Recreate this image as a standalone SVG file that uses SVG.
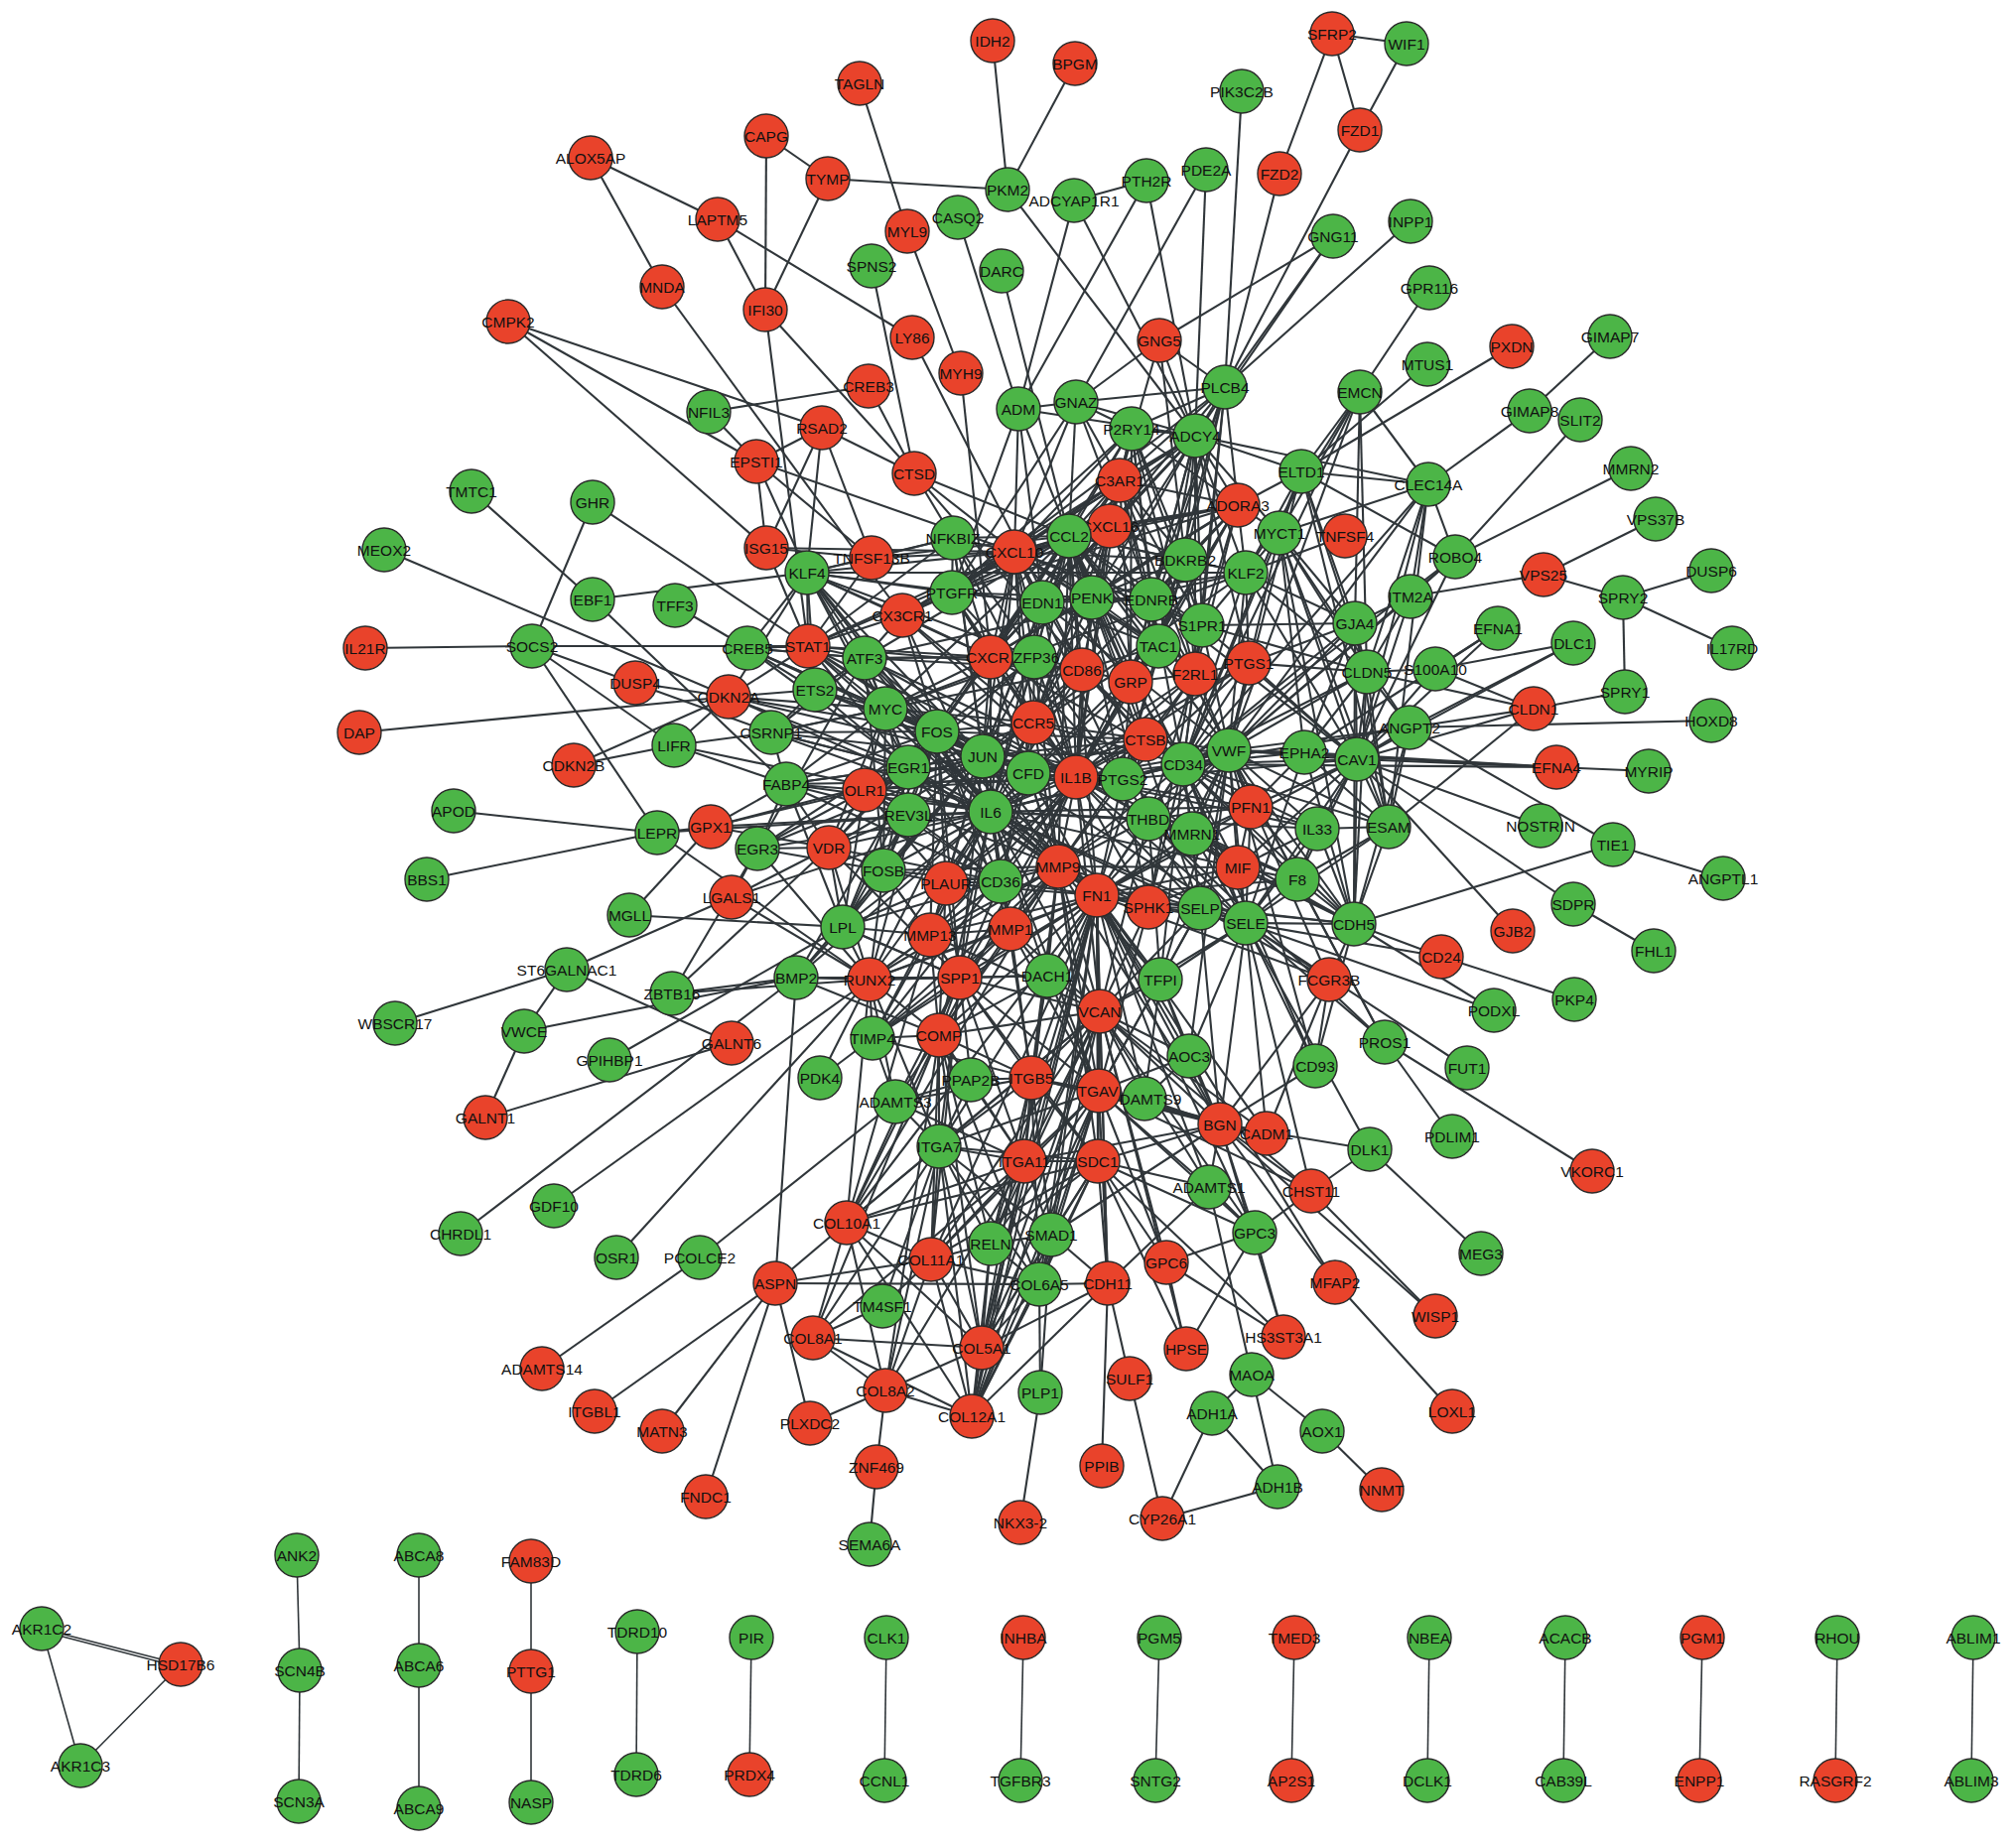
<svg xmlns="http://www.w3.org/2000/svg" width="2031" height="1860" viewBox="0 0 2031 1860">
<style>
.e path{stroke:#30363a;stroke-width:2.1;fill:none}
.e2 path{stroke:#30363a;stroke-width:1.6;fill:none}
circle{stroke:#2a2a2a;stroke-width:1.4}
.r circle{fill:#e9432b}
.g circle{fill:#4cb547}
text{font-family:"Liberation Sans",Arial,sans-serif;font-size:15.5px;text-anchor:middle;dominant-baseline:central;fill:#111}
</style>
<rect width="2031" height="1860" fill="#fff"/>
<g id="connectors" class="e">
<path d="M866 84L914 233"/><path d="M914 233L968 376"/><path d="M772 137L834 180"/><path d="M772 137L771 312"/><path d="M834 180L771 312"/><path d="M834 180L1015 191"/><path d="M595 159L723 221"/><path d="M595 159L667 289"/><path d="M723 221L771 312"/><path d="M723 221L919 340"/><path d="M667 289L909 620"/><path d="M771 312L814 651"/><path d="M771 312L921 477"/><path d="M512 324L828 431"/><path d="M512 324L762 465"/><path d="M512 324L772 552"/><path d="M714 415L875 389"/><path d="M714 415L762 465"/><path d="M875 389L921 477"/><path d="M828 431L762 465"/><path d="M828 431L772 552"/><path d="M828 431L813 577"/><path d="M828 431L878 562"/><path d="M828 431L921 477"/><path d="M762 465L1022 556"/><path d="M762 465L772 552"/><path d="M762 465L878 562"/><path d="M762 465L813 577"/><path d="M772 552L878 562"/><path d="M772 552L814 651"/><path d="M772 552L1022 556"/><path d="M475 495L597 604"/><path d="M597 506L536 651"/><path d="M597 506L814 651"/><path d="M387 554L734 702"/><path d="M597 604L813 577"/><path d="M597 604L792 790"/><path d="M680 610L753 653"/><path d="M368 653L536 651"/><path d="M536 651L814 651"/><path d="M536 651L679 751"/><path d="M536 651L662 839"/><path d="M640 688L734 702"/><path d="M362 738L734 702"/><path d="M734 702L679 751"/><path d="M734 702L578 771"/><path d="M734 702L814 651"/><path d="M734 702L892 714"/><path d="M734 702L821 695"/><path d="M734 702L990 762"/><path d="M734 702L944 737"/><path d="M734 702L915 773"/><path d="M734 702L998 818"/><path d="M578 771L679 751"/><path d="M679 751L777 738"/><path d="M679 751L792 790"/><path d="M679 751L998 818"/><path d="M457 817L662 839"/><path d="M430 886L662 839"/><path d="M662 839L716 833"/><path d="M662 839L876 987"/><path d="M662 839L998 818"/><path d="M716 833L792 790"/><path d="M716 833L634 922"/><path d="M716 833L835 854"/><path d="M716 833L990 762"/><path d="M716 833L998 818"/><path d="M716 833L871 796"/><path d="M634 922L849 934"/><path d="M737 904L571 977"/><path d="M737 904L835 854"/><path d="M737 904L876 987"/><path d="M737 904L763 855"/><path d="M737 904L998 818"/><path d="M571 977L398 1031"/><path d="M571 977L528 1039"/><path d="M571 977L737 1051"/><path d="M528 1039L489 1126"/><path d="M528 1039L802 985"/><path d="M489 1126L737 1051"/><path d="M614 1068L849 934"/><path d="M677 1001L802 985"/><path d="M677 1001L876 987"/><path d="M677 1001L763 855"/><path d="M677 1001L835 854"/><path d="M826 1086L879 1046"/><path d="M464 1243L802 985"/><path d="M558 1215L876 987"/><path d="M621 1267L876 987"/><path d="M705 1267L546 1379"/><path d="M705 1267L902 1110"/><path d="M802 985L781 1293"/><path d="M802 985L876 987"/><path d="M802 985L967 985"/><path d="M802 985L849 934"/><path d="M802 985L998 818"/><path d="M802 985L990 762"/><path d="M802 985L944 737"/><path d="M802 985L946 1043"/><path d="M781 1293L853 1232"/><path d="M781 1293L938 1269"/><path d="M781 1293L1047 1294"/><path d="M781 1293L599 1422"/><path d="M781 1293L667 1442"/><path d="M781 1293L711 1508"/><path d="M781 1293L816 1434"/><path d="M853 1232L938 1269"/><path d="M853 1232L819 1348"/><path d="M853 1232L892 1401"/><path d="M853 1232L989 1358"/><path d="M853 1232L979 1427"/><path d="M853 1232L946 1155"/><path d="M853 1232L967 985"/><path d="M853 1232L946 1043"/><path d="M853 1232L876 987"/><path d="M853 1232L937 942"/><path d="M819 1348L989 1358"/><path d="M819 1348L889 1316"/><path d="M819 1348L892 1401"/><path d="M819 1348L979 1427"/><path d="M892 1401L816 1434"/><path d="M892 1401L883 1478"/><path d="M892 1401L979 1427"/><path d="M892 1401L989 1358"/><path d="M892 1401L938 1269"/><path d="M883 1478L876 1556"/><path d="M889 1316L938 1269"/><path d="M938 1269L989 1358"/><path d="M938 1269L979 1427"/><path d="M938 1269L946 1155"/><path d="M938 1269L1047 1294"/><path d="M938 1269L946 1043"/><path d="M938 1269L967 985"/><path d="M938 1269L1032 1170"/><path d="M938 1269L998 1253"/><path d="M989 1358L979 1427"/><path d="M989 1358L1047 1294"/><path d="M989 1358L1032 1170"/><path d="M989 1358L946 1155"/><path d="M989 1358L1106 1170"/><path d="M989 1358L998 1253"/><path d="M989 1358L1059 1244"/><path d="M989 1358L1116 1293"/><path d="M989 1358L1039 1086"/><path d="M989 1358L946 1043"/><path d="M979 1427L1116 1293"/><path d="M979 1427L1047 1294"/><path d="M979 1427L1032 1170"/><path d="M979 1427L946 1155"/><path d="M979 1427L1059 1244"/><path d="M979 1427L998 1253"/><path d="M979 1427L1106 1170"/><path d="M979 1427L1107 1099"/><path d="M1380 1158L1321 1200"/><path d="M1380 1158L1492 1263"/><path d="M1395 1050L1604 1180"/><path d="M1395 1050L1463 1145"/><path d="M1395 1050L1255 930"/><path d="M1395 1050L1307 886"/><path d="M1395 1050L1157 825"/><path d="M1395 1050L1238 756"/><path d="M1321 1200L1264 1242"/><path d="M1321 1200L1446 1326"/><path d="M1321 1200L1229 1133"/><path d="M1321 1200L1108 1019"/><path d="M1106 1170L1116 1293"/><path d="M1106 1170L1264 1242"/><path d="M1106 1170L1293 1347"/><path d="M1106 1170L1195 1359"/><path d="M1106 1170L1047 1294"/><path d="M1106 1170L1175 1272"/><path d="M1106 1170L1059 1244"/><path d="M1106 1170L998 1253"/><path d="M1106 1170L1032 1170"/><path d="M1106 1170L1107 1099"/><path d="M1106 1170L1039 1086"/><path d="M1106 1170L1108 1019"/><path d="M1106 1170L1105 902"/><path d="M1106 1170L1066 873"/><path d="M1106 1170L1229 1133"/><path d="M1106 1170L1218 1196"/><path d="M1106 1170L946 1155"/><path d="M1106 1170L938 1269"/><path d="M1106 1170L853 1232"/><path d="M1264 1242L1175 1272"/><path d="M1264 1242L1195 1359"/><path d="M1264 1242L1293 1347"/><path d="M1264 1242L1218 1196"/><path d="M1264 1242L1229 1133"/><path d="M1264 1242L1108 1019"/><path d="M1175 1272L1293 1347"/><path d="M1175 1272L1195 1359"/><path d="M1175 1272L1107 1099"/><path d="M1175 1272L1108 1019"/><path d="M1116 1293L1110 1477"/><path d="M1116 1293L1138 1389"/><path d="M1116 1293L1047 1294"/><path d="M1116 1293L1218 1196"/><path d="M1116 1293L1107 1099"/><path d="M1116 1293L1105 902"/><path d="M1116 1293L1108 1019"/><path d="M1138 1389L1171 1530"/><path d="M1261 1385L1221 1424"/><path d="M1261 1385L1287 1498"/><path d="M1261 1385L1332 1442"/><path d="M1261 1385L1218 1196"/><path d="M1221 1424L1287 1498"/><path d="M1221 1424L1171 1530"/><path d="M1287 1498L1171 1530"/><path d="M1332 1442L1392 1501"/><path d="M1345 1292L1463 1422"/><path d="M1345 1292L1229 1133"/><path d="M1345 1292L1105 902"/><path d="M1048 1403L1028 1534"/><path d="M1048 1403L1059 1244"/><path d="M1048 1403L1047 1294"/>
<path d="M1421 601L1555 579"/><path d="M1555 579L1635 602"/><path d="M1555 579L1668 523"/><path d="M1635 602L1724 575"/><path d="M1635 602L1745 653"/><path d="M1635 602L1637 697"/><path d="M1509 633L1446 674"/><path d="M1446 674L1585 648"/><path d="M1446 674L1545 714"/><path d="M1446 674L1377 677"/><path d="M1585 648L1420 733"/><path d="M1545 714L1637 697"/><path d="M1420 733L1724 726"/><path d="M1545 714L1399 833"/><path d="M1545 714L1420 733"/><path d="M1545 714L1377 677"/><path d="M1545 714L1367 765"/><path d="M1568 773L1661 777"/><path d="M1568 773L1367 765"/><path d="M1568 773L1314 758"/><path d="M1568 773L1238 756"/><path d="M1568 773L1192 770"/><path d="M1552 832L1367 765"/><path d="M1625 851L1736 885"/><path d="M1625 851L1420 733"/><path d="M1625 851L1364 931"/><path d="M1585 911L1666 958"/><path d="M1585 911L1367 765"/><path d="M1524 938L1367 765"/><path d="M1452 964L1586 1007"/><path d="M1452 964L1364 931"/><path d="M1452 964L1255 930"/><path d="M1505 1018L1364 931"/><path d="M1505 1018L1255 930"/><path d="M1478 1076L1255 930"/><path d="M1417 44L1342 34"/><path d="M1417 44L1370 131"/><path d="M1342 34L1370 131"/><path d="M1342 34L1289 175"/><path d="M1289 175L1234 390"/><path d="M1370 131L1234 390"/><path d="M1421 223L1234 390"/><path d="M1343 238L1234 390"/><path d="M1343 238L1168 343"/><path d="M1343 238L1204 439"/><path d="M1251 92L1234 390"/><path d="M1440 290L1370 395"/><path d="M1438 367L1311 475"/><path d="M1523 349L1311 475"/><path d="M1622 339L1541 414"/><path d="M1541 414L1439 488"/><path d="M1592 423L1466 561"/><path d="M1643 472L1466 561"/><path d="M1439 488L1466 561"/><path d="M1439 488L1421 601"/><path d="M1439 488L1311 475"/><path d="M1439 488L1370 395"/><path d="M1439 488L1289 537"/><path d="M1439 488L1399 833"/><path d="M1439 488L1377 677"/><path d="M1439 488L1204 439"/><path d="M1466 561L1421 601"/><path d="M1000 41L1015 191"/><path d="M1083 64L1015 191"/><path d="M1015 191L1204 439"/><path d="M1082 202L1155 182"/><path d="M1082 202L1026 412"/><path d="M1082 202L1204 439"/><path d="M1155 182L1026 412"/><path d="M1155 182L1204 439"/><path d="M1215 171L1084 405"/><path d="M1215 171L1204 439"/><path d="M965 219L1026 412"/><path d="M1009 273L1077 540"/><path d="M919 340L1090 675"/><path d="M968 376L998 662"/><path d="M878 268L921 477"/><path d="M921 477L1022 556"/><path d="M921 477L1077 540"/><path d="M921 477L960 542"/><path d="M921 477L1154 745"/><path d="M1026 412L1204 439"/><path d="M1026 412L1022 556"/><path d="M1026 412L1050 607"/><path d="M1026 412L1077 540"/><path d="M1026 412L1084 405"/><path d="M1026 412L959 597"/><path d="M1084 405L1234 390"/><path d="M1084 405L1168 343"/><path d="M1084 405L1204 439"/><path d="M1084 405L1140 432"/><path d="M1084 405L1160 604"/><path d="M1084 405L1022 556"/><path d="M1084 405L1077 540"/><path d="M1084 405L959 597"/><path d="M1084 405L1128 484"/><path d="M1168 343L1204 439"/><path d="M1168 343L1234 390"/><path d="M1168 343L1128 484"/><path d="M1168 343L1194 564"/><path d="M1234 390L1204 439"/><path d="M1234 390L1160 604"/><path d="M1234 390L1194 564"/><path d="M1234 390L1140 432"/><path d="M1234 390L1128 484"/><path d="M1234 390L1247 509"/><path d="M1234 390L959 597"/><path d="M1234 390L1167 651"/><path d="M1234 390L1211 630"/><path d="M1234 390L1204 679"/><path d="M1234 390L1118 530"/><path d="M1234 390L1139 687"/><path d="M1204 439L1311 475"/><path d="M1204 439L1140 432"/><path d="M1204 439L1247 509"/><path d="M1204 439L1128 484"/><path d="M1204 439L1194 564"/><path d="M1204 439L1211 630"/><path d="M1204 439L1160 604"/><path d="M1204 439L1118 530"/><path d="M1204 439L1077 540"/><path d="M1204 439L1022 556"/><path d="M1204 439L1167 651"/><path d="M1204 439L959 597"/><path d="M1204 439L1204 679"/><path d="M1204 439L1139 687"/><path d="M1204 439L1258 668"/><path d="M1204 439L1050 607"/><path d="M1204 439L1100 602"/><path d="M1204 439L998 662"/><path d="M1204 439L1041 728"/><path d="M1204 439L1289 537"/><path d="M1204 439L1255 577"/><path d="M1370 395L1311 475"/><path d="M1370 395L1289 537"/><path d="M1370 395L1365 628"/><path d="M1370 395L1238 756"/><path d="M1370 395L1192 770"/><path d="M1370 395L1377 677"/><path d="M1370 395L1255 577"/><path d="M1311 475L1289 537"/><path d="M1311 475L1365 628"/><path d="M1311 475L1377 677"/><path d="M1311 475L1238 756"/><path d="M1311 475L1192 770"/><path d="M1311 475L1247 509"/><path d="M1311 475L1399 833"/><path d="M1311 475L1255 577"/><path d="M1311 475L1466 561"/><path d="M1355 540L1255 577"/><path d="M1289 537L1255 577"/><path d="M1289 537L1365 628"/><path d="M1289 537L1377 677"/><path d="M1289 537L1238 756"/><path d="M1289 537L1192 770"/><path d="M1289 537L1247 509"/><path d="M1289 537L1399 833"/><path d="M1289 537L1367 765"/><path d="M1289 537L1314 758"/><path d="M1289 537L1364 931"/><path d="M1289 537L1420 733"/>
<path d="M998 818L990 762"/><path d="M998 818L944 737"/><path d="M998 818L892 714"/><path d="M998 818L915 773"/><path d="M998 818L871 663"/><path d="M998 818L1077 540"/><path d="M998 818L1022 556"/><path d="M998 818L1084 783"/><path d="M998 818L1131 785"/><path d="M998 818L1041 728"/><path d="M998 818L998 662"/><path d="M998 818L1090 675"/><path d="M998 818L1066 873"/><path d="M998 818L1018 936"/><path d="M998 818L937 942"/><path d="M998 818L967 985"/><path d="M998 818L1105 902"/><path d="M998 818L1238 756"/><path d="M998 818L1192 770"/><path d="M998 818L1255 930"/><path d="M998 818L1209 915"/><path d="M998 818L1167 651"/><path d="M998 818L1050 607"/><path d="M998 818L1036 779"/><path d="M998 818L1157 825"/><path d="M998 818L1247 874"/><path d="M998 818L1157 914"/><path d="M998 818L814 651"/><path d="M998 818L813 577"/><path d="M998 818L835 854"/><path d="M998 818L876 987"/><path d="M998 818L849 934"/><path d="M998 818L1008 888"/><path d="M998 818L953 890"/><path d="M998 818L871 796"/><path d="M998 818L1042 662"/><path d="M998 818L890 877"/><path d="M998 818L763 855"/><path d="M998 818L1258 668"/><path d="M998 818L1204 679"/><path d="M998 818L1139 687"/><path d="M998 818L960 542"/><path d="M998 818L536 651"/><path d="M998 818L1327 835"/><path d="M998 818L1154 745"/><path d="M998 818L946 1043"/><path d="M998 818L879 1046"/><path d="M998 818L1108 1019"/><path d="M998 818L792 790"/><path d="M998 818L915 821"/><path d="M998 818L1055 983"/><path d="M998 818L909 620"/><path d="M998 818L1260 813"/><path d="M998 818L1107 1099"/><path d="M998 818L1039 1086"/>
<path d="M990 762L944 737"/><path d="M990 762L892 714"/><path d="M990 762L915 773"/><path d="M990 762L871 663"/><path d="M990 762L814 651"/><path d="M990 762L821 695"/><path d="M990 762L753 653"/><path d="M990 762L813 577"/><path d="M990 762L1255 577"/><path d="M990 762L1077 540"/><path d="M990 762L1022 556"/><path d="M990 762L1084 783"/><path d="M990 762L1131 785"/><path d="M990 762L1066 873"/><path d="M990 762L1018 936"/><path d="M990 762L937 942"/><path d="M990 762L1105 902"/><path d="M990 762L1042 662"/><path d="M990 762L890 877"/><path d="M990 762L763 855"/><path d="M990 762L876 987"/><path d="M990 762L967 985"/><path d="M990 762L835 854"/><path d="M990 762L1050 607"/><path d="M990 762L953 890"/><path d="M990 762L777 738"/><path d="M990 762L960 542"/><path d="M990 762L1090 675"/><path d="M990 762L998 662"/><path d="M990 762L1041 728"/><path d="M990 762L1167 651"/><path d="M990 762L1238 756"/><path d="M990 762L1255 930"/><path d="M990 762L1154 745"/><path d="M990 762L1036 779"/><path d="M990 762L915 821"/><path d="M990 762L871 796"/><path d="M990 762L849 934"/><path d="M990 762L792 790"/><path d="M990 762L1008 888"/>
<path d="M944 737L892 714"/><path d="M944 737L915 773"/><path d="M944 737L871 663"/><path d="M944 737L814 651"/><path d="M944 737L821 695"/><path d="M944 737L753 653"/><path d="M944 737L813 577"/><path d="M944 737L890 877"/><path d="M944 737L763 855"/><path d="M944 737L1042 662"/><path d="M944 737L1066 873"/><path d="M944 737L1018 936"/><path d="M944 737L1105 902"/><path d="M944 737L1084 783"/><path d="M944 737L1131 785"/><path d="M944 737L1077 540"/><path d="M944 737L777 738"/><path d="M944 737L876 987"/><path d="M944 737L967 985"/><path d="M944 737L849 934"/><path d="M944 737L835 854"/><path d="M944 737L1154 745"/><path d="M944 737L915 821"/><path d="M944 737L998 662"/><path d="M944 737L1041 728"/><path d="M944 737L871 796"/><path d="M944 737L792 790"/><path d="M944 737L1008 888"/><path d="M944 737L937 942"/><path d="M944 737L953 890"/><path d="M944 737L909 620"/>
<path d="M892 714L915 773"/><path d="M892 714L871 663"/><path d="M892 714L814 651"/><path d="M892 714L821 695"/><path d="M892 714L813 577"/><path d="M892 714L890 877"/><path d="M892 714L1042 662"/><path d="M892 714L777 738"/><path d="M892 714L792 790"/><path d="M892 714L1066 873"/><path d="M892 714L1105 902"/><path d="M892 714L1084 783"/><path d="M892 714L1077 540"/><path d="M892 714L835 854"/><path d="M892 714L1090 675"/><path d="M892 714L998 662"/><path d="M892 714L915 821"/><path d="M892 714L871 796"/><path d="M892 714L1041 728"/><path d="M892 714L1255 577"/><path d="M892 714L1036 779"/>
<path d="M915 773L871 663"/><path d="M915 773L890 877"/><path d="M915 773L763 855"/><path d="M915 773L1042 662"/><path d="M915 773L813 577"/><path d="M915 773L814 651"/><path d="M915 773L753 653"/><path d="M915 773L777 738"/><path d="M915 773L792 790"/><path d="M915 773L871 796"/><path d="M915 773L915 821"/><path d="M915 773L1131 785"/><path d="M915 773L1084 783"/><path d="M915 773L849 934"/><path d="M915 773L835 854"/><path d="M915 773L1066 873"/><path d="M915 773L1077 540"/><path d="M915 773L998 662"/><path d="M915 773L821 695"/><path d="M915 773L1105 902"/><path d="M915 773L1008 888"/>
<path d="M871 663L821 695"/><path d="M871 663L813 577"/><path d="M871 663L1042 662"/><path d="M871 663L998 662"/><path d="M871 663L909 620"/><path d="M871 663L1255 577"/><path d="M871 663L777 738"/><path d="M871 663L890 877"/><path d="M871 663L763 855"/><path d="M871 663L814 651"/><path d="M871 663L753 653"/><path d="M871 663L1077 540"/><path d="M871 663L1084 783"/><path d="M871 663L1131 785"/><path d="M871 663L1090 675"/>
<path d="M814 651L821 695"/><path d="M814 651L1022 556"/><path d="M814 651L1077 540"/><path d="M814 651L998 662"/><path d="M814 651L1090 675"/><path d="M814 651L909 620"/><path d="M814 651L813 577"/><path d="M814 651L753 653"/><path d="M814 651L878 562"/><path d="M814 651L960 542"/><path d="M814 651L1084 783"/>
<path d="M813 577L1255 577"/><path d="M813 577L878 562"/><path d="M813 577L909 620"/><path d="M813 577L959 597"/><path d="M813 577L1042 662"/><path d="M813 577L821 695"/><path d="M813 577L1050 607"/><path d="M813 577L998 662"/><path d="M813 577L960 542"/><path d="M813 577L734 702"/>
<path d="M1084 783L1077 540"/><path d="M1084 783L1022 556"/><path d="M1084 783L1131 785"/><path d="M1084 783L1041 728"/><path d="M1084 783L998 662"/><path d="M1084 783L1090 675"/><path d="M1084 783L1066 873"/><path d="M1084 783L1018 936"/><path d="M1084 783L937 942"/><path d="M1084 783L1105 902"/><path d="M1084 783L967 985"/><path d="M1084 783L1238 756"/><path d="M1084 783L1192 770"/><path d="M1084 783L1255 930"/><path d="M1084 783L1209 915"/><path d="M1084 783L1157 825"/><path d="M1084 783L1154 745"/><path d="M1084 783L1247 874"/><path d="M1084 783L1157 914"/><path d="M1084 783L1258 668"/><path d="M1084 783L1139 687"/><path d="M1084 783L1167 651"/><path d="M1084 783L1050 607"/><path d="M1084 783L1100 602"/><path d="M1084 783L1204 679"/><path d="M1084 783L1036 779"/><path d="M1084 783L909 620"/><path d="M1084 783L871 796"/><path d="M1084 783L953 890"/><path d="M1084 783L1008 888"/><path d="M1084 783L960 542"/><path d="M1084 783L1327 835"/><path d="M1084 783L1307 886"/><path d="M1084 783L1042 662"/><path d="M1084 783L1118 530"/><path d="M1084 783L1128 484"/><path d="M1084 783L1194 564"/><path d="M1084 783L1260 813"/><path d="M1084 783L1108 1019"/><path d="M1084 783L879 1046"/><path d="M1084 783L946 1043"/><path d="M1084 783L959 597"/><path d="M1084 783L1247 509"/>
<path d="M1077 540L1022 556"/><path d="M1077 540L1041 728"/><path d="M1077 540L998 662"/><path d="M1077 540L1090 675"/><path d="M1077 540L909 620"/><path d="M1077 540L1128 484"/><path d="M1077 540L1118 530"/><path d="M1077 540L1050 607"/><path d="M1077 540L1131 785"/><path d="M1077 540L1066 873"/><path d="M1077 540L1105 902"/><path d="M1077 540L1238 756"/><path d="M1077 540L1255 930"/><path d="M1077 540L1209 915"/><path d="M1077 540L960 542"/><path d="M1077 540L878 562"/><path d="M1077 540L1247 509"/><path d="M1077 540L1194 564"/><path d="M1077 540L1140 432"/><path d="M1077 540L959 597"/><path d="M1077 540L1167 651"/><path d="M1077 540L1160 604"/><path d="M1077 540L1100 602"/><path d="M1077 540L1211 630"/><path d="M1077 540L1192 770"/><path d="M1077 540L1042 662"/><path d="M1077 540L1255 577"/><path d="M1077 540L1154 745"/><path d="M1077 540L1139 687"/><path d="M1077 540L1204 679"/><path d="M1077 540L1157 825"/>
<path d="M1022 556L1041 728"/><path d="M1022 556L998 662"/><path d="M1022 556L1090 675"/><path d="M1022 556L909 620"/><path d="M1022 556L1128 484"/><path d="M1022 556L1118 530"/><path d="M1022 556L960 542"/><path d="M1022 556L878 562"/><path d="M1022 556L959 597"/><path d="M1022 556L1140 432"/><path d="M1022 556L1247 509"/><path d="M1022 556L1160 604"/><path d="M1022 556L1211 630"/><path d="M1022 556L1050 607"/><path d="M1022 556L1194 564"/><path d="M1022 556L1100 602"/><path d="M1022 556L1167 651"/><path d="M1022 556L1042 662"/><path d="M1022 556L1139 687"/><path d="M1022 556L1204 679"/><path d="M1022 556L813 577"/><path d="M1022 556L1036 779"/><path d="M1022 556L1131 785"/>
<path d="M1105 902L1066 873"/><path d="M1105 902L1018 936"/><path d="M1105 902L937 942"/><path d="M1105 902L967 985"/><path d="M1105 902L946 1043"/><path d="M1105 902L1108 1019"/><path d="M1105 902L1039 1086"/><path d="M1105 902L1107 1099"/><path d="M1105 902L1032 1170"/><path d="M1105 902L946 1155"/><path d="M1105 902L853 1232"/><path d="M1105 902L938 1269"/><path d="M1105 902L989 1358"/><path d="M1105 902L979 1427"/><path d="M1105 902L1229 1133"/><path d="M1105 902L879 1046"/><path d="M1105 902L953 890"/><path d="M1105 902L1008 888"/><path d="M1105 902L1238 756"/><path d="M1105 902L1192 770"/><path d="M1105 902L1157 825"/><path d="M1105 902L1255 930"/><path d="M1105 902L1209 915"/><path d="M1105 902L876 987"/><path d="M1105 902L1154 745"/><path d="M1105 902L1131 785"/><path d="M1105 902L1169 987"/><path d="M1105 902L1198 1064"/><path d="M1105 902L1055 983"/><path d="M1105 902L1153 1107"/><path d="M1105 902L1218 1196"/><path d="M1105 902L1276 1142"/><path d="M1105 902L1260 813"/><path d="M1105 902L1247 874"/><path d="M1105 902L1307 886"/><path d="M1105 902L1364 931"/><path d="M1105 902L1367 765"/><path d="M1105 902L1264 1242"/><path d="M1105 902L1047 1294"/><path d="M1105 902L1157 914"/><path d="M1105 902L1036 779"/><path d="M1105 902L1201 840"/><path d="M1105 902L1339 987"/><path d="M1105 902L998 1253"/><path d="M1105 902L1059 1244"/>
<path d="M1066 873L1018 936"/><path d="M1066 873L937 942"/><path d="M1066 873L967 985"/><path d="M1066 873L946 1043"/><path d="M1066 873L1008 888"/><path d="M1066 873L953 890"/><path d="M1066 873L879 1046"/><path d="M1066 873L1154 745"/><path d="M1066 873L1108 1019"/><path d="M1066 873L1192 770"/><path d="M1066 873L1238 756"/><path d="M1066 873L876 987"/><path d="M1066 873L1039 1086"/><path d="M1066 873L1107 1099"/><path d="M1066 873L853 1232"/><path d="M1066 873L1036 779"/><path d="M1066 873L1131 785"/><path d="M1066 873L1055 983"/><path d="M1066 873L1247 874"/><path d="M1066 873L1157 914"/><path d="M1066 873L1157 825"/><path d="M1066 873L1255 930"/><path d="M1066 873L1169 987"/><path d="M1066 873L1229 1133"/><path d="M1066 873L1032 1170"/><path d="M1066 873L871 796"/><path d="M1066 873L890 877"/><path d="M1066 873L1041 728"/><path d="M1066 873L998 662"/><path d="M1066 873L1042 662"/>
<path d="M1238 756L1192 770"/><path d="M1238 756L1255 930"/><path d="M1238 756L1209 915"/><path d="M1238 756L1364 931"/><path d="M1238 756L1367 765"/><path d="M1238 756L1314 758"/><path d="M1238 756L1399 833"/><path d="M1238 756L1201 840"/><path d="M1238 756L1157 825"/><path d="M1238 756L1307 886"/><path d="M1238 756L1377 677"/><path d="M1238 756L1365 628"/><path d="M1238 756L1211 630"/><path d="M1238 756L1255 577"/><path d="M1238 756L1420 733"/><path d="M1238 756L1327 835"/><path d="M1238 756L1260 813"/><path d="M1238 756L1247 874"/><path d="M1238 756L1258 668"/><path d="M1238 756L1050 607"/><path d="M1238 756L1160 604"/><path d="M1238 756L1325 1074"/><path d="M1238 756L1339 987"/><path d="M1238 756L1169 987"/><path d="M1238 756L1198 1064"/><path d="M1238 756L1466 561"/><path d="M1238 756L1439 488"/><path d="M1238 756L1204 679"/><path d="M1238 756L1154 745"/><path d="M1238 756L1131 785"/><path d="M1238 756L1157 914"/><path d="M1238 756L1421 601"/>
<path d="M1192 770L1255 930"/><path d="M1192 770L1209 915"/><path d="M1192 770L1364 931"/><path d="M1192 770L1367 765"/><path d="M1192 770L1399 833"/><path d="M1192 770L1201 840"/><path d="M1192 770L1157 825"/><path d="M1192 770L1439 488"/><path d="M1192 770L1466 561"/><path d="M1192 770L1255 577"/><path d="M1192 770L1211 630"/><path d="M1192 770L1365 628"/><path d="M1192 770L1377 677"/><path d="M1192 770L1420 733"/><path d="M1192 770L1314 758"/><path d="M1192 770L1258 668"/><path d="M1192 770L1160 604"/><path d="M1192 770L1327 835"/><path d="M1192 770L1307 886"/><path d="M1192 770L1325 1074"/><path d="M1192 770L1247 874"/><path d="M1192 770L1260 813"/><path d="M1192 770L1154 745"/><path d="M1192 770L1131 785"/><path d="M1192 770L1157 914"/><path d="M1192 770L1169 987"/><path d="M1192 770L1204 679"/><path d="M1192 770L1139 687"/><path d="M1192 770L1090 675"/><path d="M1192 770L1041 728"/><path d="M1192 770L998 662"/>
<path d="M1255 930L1209 915"/><path d="M1255 930L1364 931"/><path d="M1255 930L1367 765"/><path d="M1255 930L1399 833"/><path d="M1255 930L1339 987"/><path d="M1255 930L1157 825"/><path d="M1255 930L1307 886"/><path d="M1255 930L1325 1074"/><path d="M1255 930L1169 987"/><path d="M1255 930L1198 1064"/><path d="M1255 930L1327 835"/><path d="M1255 930L1247 874"/><path d="M1255 930L1157 914"/><path d="M1255 930L1260 813"/><path d="M1255 930L1201 840"/><path d="M1255 930L1314 758"/><path d="M1255 930L1229 1133"/><path d="M1255 930L1276 1142"/><path d="M1255 930L1321 1200"/><path d="M1255 930L1380 1158"/>
<path d="M1364 931L1367 765"/><path d="M1364 931L1399 833"/><path d="M1364 931L1314 758"/><path d="M1364 931L1377 677"/><path d="M1364 931L1420 733"/><path d="M1364 931L1307 886"/><path d="M1364 931L1339 987"/><path d="M1364 931L1325 1074"/><path d="M1364 931L1209 915"/><path d="M1364 931L1365 628"/><path d="M1364 931L1201 840"/><path d="M1364 931L1327 835"/><path d="M1364 931L1260 813"/><path d="M1364 931L1247 874"/><path d="M1364 931L1157 825"/>
<path d="M1367 765L1314 758"/><path d="M1367 765L1399 833"/><path d="M1367 765L1377 677"/><path d="M1367 765L1420 733"/><path d="M1367 765L1446 674"/><path d="M1367 765L1509 633"/><path d="M1367 765L1585 648"/><path d="M1367 765L1365 628"/><path d="M1367 765L1421 601"/><path d="M1367 765L1466 561"/><path d="M1367 765L1439 488"/><path d="M1367 765L1327 835"/><path d="M1367 765L1307 886"/><path d="M1367 765L1260 813"/><path d="M1367 765L1247 874"/><path d="M1367 765L1255 577"/><path d="M1367 765L1211 630"/><path d="M1367 765L1258 668"/><path d="M1367 765L1131 785"/><path d="M1367 765L1160 604"/>
<path d="M967 985L946 1043"/><path d="M967 985L876 987"/><path d="M967 985L937 942"/><path d="M967 985L1018 936"/><path d="M967 985L1039 1086"/><path d="M967 985L1107 1099"/><path d="M967 985L1108 1019"/><path d="M967 985L1106 1170"/><path d="M967 985L1008 888"/><path d="M967 985L953 890"/><path d="M967 985L879 1046"/><path d="M967 985L1055 983"/><path d="M967 985L835 854"/><path d="M967 985L849 934"/><path d="M967 985L890 877"/><path d="M967 985L946 1155"/><path d="M967 985L1032 1170"/><path d="M967 985L978 1088"/><path d="M967 985L902 1110"/>
<path d="M946 1043L946 1155"/><path d="M946 1043L1039 1086"/><path d="M946 1043L1108 1019"/><path d="M946 1043L879 1046"/><path d="M946 1043L998 1253"/><path d="M946 1043L902 1110"/><path d="M946 1043L978 1088"/><path d="M946 1043L1032 1170"/><path d="M946 1043L1047 1294"/><path d="M946 1043L819 1348"/><path d="M946 1043L892 1401"/><path d="M946 1043L937 942"/><path d="M946 1043L1018 936"/><path d="M946 1043L876 987"/><path d="M946 1043L1055 983"/>
<path d="M876 987L937 942"/><path d="M876 987L879 1046"/><path d="M876 987L849 934"/><path d="M876 987L835 854"/><path d="M876 987L1055 983"/><path d="M876 987L890 877"/><path d="M876 987L763 855"/><path d="M876 987L946 1155"/><path d="M876 987L902 1110"/><path d="M876 987L1018 936"/><path d="M876 987L1008 888"/><path d="M876 987L826 1086"/>
<path d="M1039 1086L1107 1099"/><path d="M1039 1086L1032 1170"/><path d="M1039 1086L946 1155"/><path d="M1039 1086L1108 1019"/><path d="M1039 1086L1047 1294"/><path d="M1039 1086L978 1088"/><path d="M1039 1086L1229 1133"/><path d="M1039 1086L1276 1142"/><path d="M1039 1086L998 1253"/><path d="M1039 1086L1059 1244"/><path d="M1039 1086L1055 983"/><path d="M1039 1086L1018 936"/><path d="M1039 1086L879 1046"/><path d="M1039 1086L902 1110"/>
<path d="M1107 1099L1032 1170"/><path d="M1107 1099L946 1155"/><path d="M1107 1099L1108 1019"/><path d="M1107 1099L1229 1133"/><path d="M1107 1099L1059 1244"/><path d="M1107 1099L998 1253"/><path d="M1107 1099L1047 1294"/><path d="M1107 1099L1153 1107"/><path d="M1107 1099L1218 1196"/><path d="M1107 1099L1169 987"/><path d="M1107 1099L1198 1064"/><path d="M1107 1099L1276 1142"/><path d="M1107 1099L1321 1200"/><path d="M1107 1099L1264 1242"/><path d="M1107 1099L989 1358"/><path d="M1107 1099L938 1269"/><path d="M1107 1099L1157 914"/><path d="M1107 1099L1209 915"/><path d="M1107 1099L1018 936"/><path d="M1107 1099L1055 983"/>
<path d="M1108 1019L1229 1133"/><path d="M1108 1019L1032 1170"/><path d="M1108 1019L989 1358"/><path d="M1108 1019L979 1427"/><path d="M1108 1019L1276 1142"/><path d="M1108 1019L1198 1064"/><path d="M1108 1019L1169 987"/><path d="M1108 1019L1153 1107"/><path d="M1108 1019L1218 1196"/><path d="M1108 1019L1055 983"/><path d="M1108 1019L1195 1359"/><path d="M1108 1019L938 1269"/><path d="M1108 1019L853 1232"/><path d="M1108 1019L946 1155"/><path d="M1108 1019L1059 1244"/><path d="M1108 1019L998 1253"/><path d="M1108 1019L1018 936"/><path d="M1108 1019L937 942"/><path d="M1108 1019L1157 914"/><path d="M1108 1019L1209 915"/><path d="M1108 1019L1255 930"/><path d="M1108 1019L1157 825"/>
<path d="M1229 1133L1276 1142"/><path d="M1229 1133L1380 1158"/><path d="M1229 1133L1218 1196"/><path d="M1229 1133L1293 1347"/><path d="M1229 1133L1446 1326"/><path d="M1229 1133L1339 987"/><path d="M1229 1133L1209 915"/><path d="M1229 1133L1169 987"/><path d="M1229 1133L1198 1064"/><path d="M1229 1133L1153 1107"/><path d="M1229 1133L1325 1074"/><path d="M1229 1133L1059 1244"/><path d="M1229 1133L1032 1170"/>
<path d="M1032 1170L946 1155"/><path d="M1032 1170L998 1253"/><path d="M1032 1170L1059 1244"/><path d="M1032 1170L892 1401"/><path d="M1032 1170L853 1232"/><path d="M1032 1170L819 1348"/><path d="M1032 1170L978 1088"/><path d="M1032 1170L902 1110"/><path d="M946 1155L998 1253"/><path d="M946 1155L1059 1244"/><path d="M946 1155L1047 1294"/><path d="M946 1155L819 1348"/><path d="M946 1155L892 1401"/><path d="M946 1155L889 1316"/><path d="M946 1155L978 1088"/><path d="M946 1155L902 1110"/><path d="M998 1253L1059 1244"/><path d="M998 1253L1047 1294"/><path d="M1059 1244L1047 1294"/><path d="M1059 1244L1116 1293"/>
<path d="M753 653L871 663"/><path d="M753 653L814 651"/><path d="M753 653L813 577"/><path d="M753 653L821 695"/><path d="M753 653L892 714"/><path d="M821 695L777 738"/><path d="M777 738L871 663"/><path d="M777 738L915 773"/><path d="M777 738L892 714"/><path d="M777 738L792 790"/><path d="M792 790L849 934"/><path d="M792 790L1008 888"/><path d="M792 790L871 796"/><path d="M792 790L1131 785"/><path d="M792 790L835 854"/><path d="M792 790L915 821"/><path d="M792 790L763 855"/><path d="M849 934L1008 888"/><path d="M849 934L890 877"/><path d="M849 934L871 796"/><path d="M849 934L835 854"/><path d="M849 934L937 942"/><path d="M849 934L967 985"/><path d="M849 934L915 821"/><path d="M849 934L953 890"/><path d="M871 796L1008 888"/><path d="M871 796L953 890"/><path d="M871 796L835 854"/><path d="M871 796L915 821"/><path d="M871 796L1041 728"/><path d="M871 796L1036 779"/><path d="M835 854L890 877"/><path d="M835 854L1008 888"/><path d="M835 854L763 855"/><path d="M835 854L915 821"/><path d="M915 821L890 877"/><path d="M915 821L1008 888"/><path d="M763 855L890 877"/><path d="M890 877L937 942"/><path d="M890 877L1008 888"/><path d="M890 877L953 890"/><path d="M953 890L1018 936"/><path d="M953 890L937 942"/><path d="M953 890L1008 888"/><path d="M953 890L946 1043"/><path d="M953 890L1041 728"/><path d="M953 890L1154 745"/><path d="M937 942L1018 936"/><path d="M937 942L879 1046"/><path d="M937 942L1008 888"/><path d="M1018 936L879 1046"/><path d="M1018 936L1008 888"/><path d="M1018 936L1055 983"/><path d="M879 1046L902 1110"/><path d="M902 1110L978 1088"/><path d="M1008 888L1036 779"/><path d="M1008 888L1041 728"/>
<path d="M1128 484L1118 530"/><path d="M1128 484L1247 509"/><path d="M1128 484L1140 432"/><path d="M1128 484L1090 675"/><path d="M1128 484L959 597"/><path d="M1128 484L1160 604"/><path d="M1128 484L1194 564"/><path d="M1128 484L1211 630"/><path d="M1128 484L1204 679"/><path d="M1128 484L1139 687"/><path d="M1128 484L1167 651"/><path d="M1128 484L1100 602"/><path d="M1128 484L1050 607"/><path d="M1128 484L998 662"/><path d="M1128 484L1041 728"/><path d="M1128 484L909 620"/><path d="M1118 530L998 662"/><path d="M1118 530L1041 728"/><path d="M1118 530L909 620"/><path d="M1118 530L1247 509"/><path d="M1118 530L1050 607"/><path d="M1118 530L1100 602"/><path d="M1118 530L1194 564"/><path d="M1118 530L1167 651"/><path d="M1247 509L1140 432"/><path d="M1247 509L1160 604"/><path d="M1247 509L1194 564"/><path d="M1247 509L1211 630"/><path d="M1247 509L1204 679"/><path d="M1247 509L1167 651"/><path d="M1247 509L959 597"/><path d="M1247 509L1041 728"/><path d="M1247 509L998 662"/><path d="M1247 509L1139 687"/><path d="M1247 509L1100 602"/><path d="M1247 509L1255 577"/><path d="M1140 432L1160 604"/><path d="M1140 432L1194 564"/><path d="M1140 432L1211 630"/><path d="M1140 432L1204 679"/><path d="M1140 432L959 597"/><path d="M1140 432L1167 651"/><path d="M1140 432L1100 602"/><path d="M1140 432L1139 687"/><path d="M1140 432L998 662"/><path d="M960 542L1042 662"/><path d="M960 542L878 562"/><path d="M960 542L959 597"/><path d="M960 542L998 662"/><path d="M959 597L1160 604"/><path d="M959 597L1050 607"/><path d="M959 597L1131 785"/><path d="M959 597L998 662"/><path d="M959 597L1041 728"/><path d="M959 597L909 620"/><path d="M1050 607L1160 604"/><path d="M1050 607L998 662"/><path d="M1050 607L1100 602"/><path d="M1050 607L1167 651"/><path d="M1050 607L1255 577"/><path d="M1050 607L1042 662"/><path d="M1100 602L1167 651"/><path d="M1100 602L1160 604"/><path d="M1100 602L998 662"/><path d="M1100 602L1041 728"/><path d="M1100 602L1139 687"/><path d="M1100 602L1194 564"/><path d="M1160 604L1167 651"/><path d="M1160 604L1194 564"/><path d="M1160 604L1211 630"/><path d="M1160 604L1204 679"/><path d="M1160 604L1139 687"/><path d="M1194 564L1167 651"/><path d="M1194 564L1211 630"/><path d="M1194 564L1204 679"/><path d="M1194 564L1131 785"/><path d="M1194 564L1255 577"/><path d="M1167 651L1139 687"/><path d="M1167 651L1204 679"/><path d="M1167 651L1090 675"/><path d="M1167 651L1131 785"/><path d="M1211 630L1204 679"/><path d="M1211 630L1255 577"/><path d="M1211 630L1365 628"/><path d="M1211 630L1377 677"/><path d="M1211 630L1157 914"/><path d="M1255 577L1365 628"/><path d="M1255 577L1377 677"/><path d="M1255 577L1258 668"/><path d="M998 662L1041 728"/><path d="M998 662L1090 675"/><path d="M998 662L909 620"/><path d="M1042 662L1041 728"/><path d="M1042 662L1090 675"/><path d="M1042 662L1131 785"/><path d="M1090 675L1041 728"/><path d="M1090 675L1154 745"/><path d="M1090 675L1139 687"/><path d="M1041 728L1154 745"/><path d="M1041 728L1036 779"/><path d="M1041 728L909 620"/><path d="M1139 687L1204 679"/><path d="M1139 687L1131 785"/><path d="M1139 687L1154 745"/><path d="M1204 679L1258 668"/><path d="M1204 679L1131 785"/><path d="M1204 679L1154 745"/><path d="M1204 679L1157 825"/><path d="M1258 668L1131 785"/><path d="M1258 668L1377 677"/><path d="M1258 668L1365 628"/><path d="M1131 785L1157 825"/><path d="M1131 785L1154 745"/><path d="M1131 785L1247 874"/><path d="M1131 785L1157 914"/><path d="M1154 745L1036 779"/><path d="M1157 825L1201 840"/><path d="M1157 825L1260 813"/><path d="M1157 825L1209 915"/><path d="M1157 825L1307 886"/><path d="M1201 840L1209 915"/><path d="M1201 840L1307 886"/><path d="M1201 840L1260 813"/><path d="M1260 813L1247 874"/><path d="M1260 813L1327 835"/><path d="M1260 813L1314 758"/><path d="M1247 874L1157 914"/><path d="M1247 874L1307 886"/><path d="M1247 874L1327 835"/><path d="M1157 914L1209 915"/><path d="M1327 835L1307 886"/><path d="M1327 835L1399 833"/><path d="M1307 886L1209 915"/><path d="M1307 886L1399 833"/><path d="M1314 758L1509 633"/><path d="M1314 758L1377 677"/><path d="M1314 758L1399 833"/><path d="M1314 758L1365 628"/><path d="M1399 833L1377 677"/><path d="M1399 833L1420 733"/><path d="M1399 833L1365 628"/><path d="M1377 677L1365 628"/><path d="M1377 677L1420 733"/><path d="M1377 677L1421 601"/><path d="M1365 628L1421 601"/><path d="M1169 987L1198 1064"/><path d="M1169 987L1153 1107"/><path d="M1169 987L1209 915"/><path d="M1169 987L1157 825"/><path d="M1198 1064L1153 1107"/><path d="M1339 987L1325 1074"/><path d="M1339 987L1209 915"/><path d="M1339 987L1276 1142"/>
</g>
<g id="connectors-small" class="e2">
<path d="M42 1641L182 1677"/><path d="M44 1644L182 1680"/><path d="M42 1641L81 1779"/><path d="M182 1677L81 1779"/><path d="M299 1567L302 1683"/><path d="M302 1683L301 1815"/><path d="M422 1567L422 1678"/><path d="M422 1678L422 1822"/><path d="M535 1573L535 1684"/><path d="M535 1684L535 1816"/><path d="M642 1644L641 1788"/><path d="M757 1650L755 1788"/><path d="M893 1650L891 1794"/><path d="M1031 1650L1028 1794"/><path d="M1168 1650L1164 1794"/><path d="M1304 1650L1301 1794"/><path d="M1440 1650L1438 1794"/><path d="M1577 1650L1575 1794"/><path d="M1715 1650L1712 1794"/><path d="M1851 1650L1849 1794"/><path d="M1988 1650L1986 1794"/>
</g>
<g id="nodes">
<g id="n-TAGLN" class="r"><circle cx="866" cy="84" r="22"/><text x="866" y="84">TAGLN</text></g>
<g id="n-CAPG" class="r"><circle cx="772" cy="137" r="22"/><text x="772" y="137">CAPG</text></g>
<g id="n-ALOX5AP" class="r"><circle cx="595" cy="159" r="22"/><text x="595" y="159">ALOX5AP</text></g>
<g id="n-TYMP" class="r"><circle cx="834" cy="180" r="22"/><text x="834" y="180">TYMP</text></g>
<g id="n-LAPTM5" class="r"><circle cx="723" cy="221" r="22"/><text x="723" y="221">LAPTM5</text></g>
<g id="n-MNDA" class="r"><circle cx="667" cy="289" r="22"/><text x="667" y="289">MNDA</text></g>
<g id="n-IFI30" class="r"><circle cx="771" cy="312" r="22"/><text x="771" y="312">IFI30</text></g>
<g id="n-CMPK2" class="r"><circle cx="512" cy="324" r="22"/><text x="512" y="324">CMPK2</text></g>
<g id="n-CREB3" class="r"><circle cx="875" cy="389" r="22"/><text x="875" y="389">CREB3</text></g>
<g id="n-NFIL3" class="g"><circle cx="714" cy="415" r="22"/><text x="714" y="415">NFIL3</text></g>
<g id="n-RSAD2" class="r"><circle cx="828" cy="431" r="22"/><text x="828" y="431">RSAD2</text></g>
<g id="n-EPSTI1" class="r"><circle cx="762" cy="465" r="22"/><text x="762" y="465">EPSTI1</text></g>
<g id="n-TMTC1" class="g"><circle cx="475" cy="495" r="22"/><text x="475" y="495">TMTC1</text></g>
<g id="n-GHR" class="g"><circle cx="597" cy="506" r="22"/><text x="597" y="506">GHR</text></g>
<g id="n-MEOX2" class="g"><circle cx="387" cy="554" r="22"/><text x="387" y="554">MEOX2</text></g>
<g id="n-ISG15" class="r"><circle cx="772" cy="552" r="22"/><text x="772" y="552">ISG15</text></g>
<g id="n-TNFSF13B" class="r"><circle cx="878" cy="562" r="22"/><text x="878" y="562">TNFSF13B</text></g>
<g id="n-KLF4" class="g"><circle cx="813" cy="577" r="22"/><text x="813" y="577">KLF4</text></g>
<g id="n-EBF1" class="g"><circle cx="597" cy="604" r="22"/><text x="597" y="604">EBF1</text></g>
<g id="n-TFF3" class="g"><circle cx="680" cy="610" r="22"/><text x="680" y="610">TFF3</text></g>
<g id="n-SPNS2" class="g"><circle cx="878" cy="268" r="22"/><text x="878" y="268">SPNS2</text></g>
<g id="n-IDH2" class="r"><circle cx="1000" cy="41" r="22"/><text x="1000" y="41">IDH2</text></g>
<g id="n-BPGM" class="r"><circle cx="1083" cy="64" r="22"/><text x="1083" y="64">BPGM</text></g>
<g id="n-SFRP2" class="r"><circle cx="1342" cy="34" r="22"/><text x="1342" y="34">SFRP2</text></g>
<g id="n-WIF1" class="g"><circle cx="1417" cy="44" r="22"/><text x="1417" y="44">WIF1</text></g>
<g id="n-PIK3C2B" class="g"><circle cx="1251" cy="92" r="22"/><text x="1251" y="92">PIK3C2B</text></g>
<g id="n-FZD1" class="r"><circle cx="1370" cy="131" r="22"/><text x="1370" y="131">FZD1</text></g>
<g id="n-FZD2" class="r"><circle cx="1289" cy="175" r="22"/><text x="1289" y="175">FZD2</text></g>
<g id="n-PDE2A" class="g"><circle cx="1215" cy="171" r="22"/><text x="1215" y="171">PDE2A</text></g>
<g id="n-PTH2R" class="g"><circle cx="1155" cy="182" r="22"/><text x="1155" y="182">PTH2R</text></g>
<g id="n-PKM2" class="g"><circle cx="1015" cy="191" r="22"/><text x="1015" y="191">PKM2</text></g>
<g id="n-ADCYAP1R1" class="g"><circle cx="1082" cy="202" r="22"/><text x="1082" y="202">ADCYAP1R1</text></g>
<g id="n-CASQ2" class="g"><circle cx="965" cy="219" r="22"/><text x="965" y="219">CASQ2</text></g>
<g id="n-MYL9" class="r"><circle cx="914" cy="233" r="22"/><text x="914" y="233">MYL9</text></g>
<g id="n-INPP1" class="g"><circle cx="1421" cy="223" r="22"/><text x="1421" y="223">INPP1</text></g>
<g id="n-GNG11" class="g"><circle cx="1343" cy="238" r="22"/><text x="1343" y="238">GNG11</text></g>
<g id="n-DARC" class="g"><circle cx="1009" cy="273" r="22"/><text x="1009" y="273">DARC</text></g>
<g id="n-GPR116" class="g"><circle cx="1440" cy="290" r="22"/><text x="1440" y="290">GPR116</text></g>
<g id="n-LY86" class="r"><circle cx="919" cy="340" r="22"/><text x="919" y="340">LY86</text></g>
<g id="n-GNG5" class="r"><circle cx="1168" cy="343" r="22"/><text x="1168" y="343">GNG5</text></g>
<g id="n-MYH9" class="r"><circle cx="968" cy="376" r="22"/><text x="968" y="376">MYH9</text></g>
<g id="n-PLCB4" class="g"><circle cx="1234" cy="390" r="22"/><text x="1234" y="390">PLCB4</text></g>
<g id="n-EMCN" class="g"><circle cx="1370" cy="395" r="22"/><text x="1370" y="395">EMCN</text></g>
<g id="n-MTUS1" class="g"><circle cx="1438" cy="367" r="22"/><text x="1438" y="367">MTUS1</text></g>
<g id="n-PXDN" class="r"><circle cx="1523" cy="349" r="22"/><text x="1523" y="349">PXDN</text></g>
<g id="n-GIMAP7" class="g"><circle cx="1622" cy="339" r="22"/><text x="1622" y="339">GIMAP7</text></g>
<g id="n-GIMAP8" class="g"><circle cx="1541" cy="414" r="22"/><text x="1541" y="414">GIMAP8</text></g>
<g id="n-SLIT2" class="g"><circle cx="1592" cy="423" r="22"/><text x="1592" y="423">SLIT2</text></g>
<g id="n-MMRN2" class="g"><circle cx="1643" cy="472" r="22"/><text x="1643" y="472">MMRN2</text></g>
<g id="n-CLEC14A" class="g"><circle cx="1439" cy="488" r="22"/><text x="1439" y="488">CLEC14A</text></g>
<g id="n-VPS37B" class="g"><circle cx="1668" cy="523" r="22"/><text x="1668" y="523">VPS37B</text></g>
<g id="n-ROBO4" class="g"><circle cx="1466" cy="561" r="22"/><text x="1466" y="561">ROBO4</text></g>
<g id="n-VPS25" class="r"><circle cx="1555" cy="579" r="22"/><text x="1555" y="579">VPS25</text></g>
<g id="n-DUSP6" class="g"><circle cx="1724" cy="575" r="22"/><text x="1724" y="575">DUSP6</text></g>
<g id="n-SPRY2" class="g"><circle cx="1635" cy="602" r="22"/><text x="1635" y="602">SPRY2</text></g>
<g id="n-ITM2A" class="g"><circle cx="1421" cy="601" r="22"/><text x="1421" y="601">ITM2A</text></g>
<g id="n-ADM" class="g"><circle cx="1026" cy="412" r="22"/><text x="1026" y="412">ADM</text></g>
<g id="n-GNAZ" class="g"><circle cx="1084" cy="405" r="22"/><text x="1084" y="405">GNAZ</text></g>
<g id="n-P2RY14" class="g"><circle cx="1140" cy="432" r="22"/><text x="1140" y="432">P2RY14</text></g>
<g id="n-ADCY4" class="g"><circle cx="1204" cy="439" r="22"/><text x="1204" y="439">ADCY4</text></g>
<g id="n-ELTD1" class="g"><circle cx="1311" cy="475" r="22"/><text x="1311" y="475">ELTD1</text></g>
<g id="n-CTSD" class="r"><circle cx="921" cy="477" r="22"/><text x="921" y="477">CTSD</text></g>
<g id="n-C3AR1" class="r"><circle cx="1128" cy="484" r="22"/><text x="1128" y="484">C3AR1</text></g>
<g id="n-ADORA3" class="r"><circle cx="1247" cy="509" r="22"/><text x="1247" y="509">ADORA3</text></g>
<g id="n-CXCL16" class="r"><circle cx="1118" cy="530" r="22"/><text x="1118" y="530">CXCL16</text></g>
<g id="n-MYCT1" class="g"><circle cx="1289" cy="537" r="22"/><text x="1289" y="537">MYCT1</text></g>
<g id="n-TNFSF4" class="r"><circle cx="1355" cy="540" r="22"/><text x="1355" y="540">TNFSF4</text></g>
<g id="n-NFKBIZ" class="g"><circle cx="960" cy="542" r="22"/><text x="960" y="542">NFKBIZ</text></g>
<g id="n-CCL2" class="g"><circle cx="1077" cy="540" r="22"/><text x="1077" y="540">CCL2</text></g>
<g id="n-CXCL10" class="r"><circle cx="1022" cy="556" r="22"/><text x="1022" y="556">CXCL10</text></g>
<g id="n-BDKRB2" class="g"><circle cx="1194" cy="564" r="22"/><text x="1194" y="564">BDKRB2</text></g>
<g id="n-KLF2" class="g"><circle cx="1255" cy="577" r="22"/><text x="1255" y="577">KLF2</text></g>
<g id="n-PTGFR" class="g"><circle cx="959" cy="597" r="22"/><text x="959" y="597">PTGFR</text></g>
<g id="n-EDN1" class="g"><circle cx="1050" cy="607" r="22"/><text x="1050" y="607">EDN1</text></g>
<g id="n-PENK" class="g"><circle cx="1100" cy="602" r="22"/><text x="1100" y="602">PENK</text></g>
<g id="n-EDNRB" class="g"><circle cx="1160" cy="604" r="22"/><text x="1160" y="604">EDNRB</text></g>
<g id="n-CX3CR1" class="r"><circle cx="909" cy="620" r="22"/><text x="909" y="620">CX3CR1</text></g>
<g id="n-S1PR1" class="g"><circle cx="1211" cy="630" r="22"/><text x="1211" y="630">S1PR1</text></g>
<g id="n-GJA4" class="g"><circle cx="1365" cy="628" r="22"/><text x="1365" y="628">GJA4</text></g>
<g id="n-TAC1" class="g"><circle cx="1167" cy="651" r="22"/><text x="1167" y="651">TAC1</text></g>
<g id="n-EFNA1" class="g"><circle cx="1509" cy="633" r="22"/><text x="1509" y="633">EFNA1</text></g>
<g id="n-DLC1" class="g"><circle cx="1585" cy="648" r="22"/><text x="1585" y="648">DLC1</text></g>
<g id="n-IL17RD" class="g"><circle cx="1745" cy="653" r="22"/><text x="1745" y="653">IL17RD</text></g>
<g id="n-IL21R" class="r"><circle cx="368" cy="653" r="22"/><text x="368" y="653">IL21R</text></g>
<g id="n-SOCS2" class="g"><circle cx="536" cy="651" r="22"/><text x="536" y="651">SOCS2</text></g>
<g id="n-CREB5" class="g"><circle cx="753" cy="653" r="22"/><text x="753" y="653">CREB5</text></g>
<g id="n-STAT1" class="r"><circle cx="814" cy="651" r="22"/><text x="814" y="651">STAT1</text></g>
<g id="n-ATF3" class="g"><circle cx="871" cy="663" r="22"/><text x="871" y="663">ATF3</text></g>
<g id="n-CXCR4" class="r"><circle cx="998" cy="662" r="22"/><text x="995" y="662">CXCR</text></g>
<g id="n-ZFP36" class="g"><circle cx="1042" cy="662" r="22"/><text x="1044" y="662">ZFP36</text></g>
<g id="n-PTGS1" class="r"><circle cx="1258" cy="668" r="22"/><text x="1258" y="668">PTGS1</text></g>
<g id="n-CD86" class="r"><circle cx="1090" cy="675" r="22"/><text x="1090" y="675">CD86</text></g>
<g id="n-CLDN5" class="g"><circle cx="1377" cy="677" r="22"/><text x="1377" y="677">CLDN5</text></g>
<g id="n-S100A10" class="g"><circle cx="1446" cy="674" r="22"/><text x="1446" y="674">S100A10</text></g>
<g id="n-F2RL1" class="r"><circle cx="1204" cy="679" r="22"/><text x="1204" y="679">F2RL1</text></g>
<g id="n-GRP" class="r"><circle cx="1139" cy="687" r="22"/><text x="1139" y="687">GRP</text></g>
<g id="n-DUSP4" class="r"><circle cx="640" cy="688" r="22"/><text x="640" y="688">DUSP4</text></g>
<g id="n-ETS2" class="g"><circle cx="821" cy="695" r="22"/><text x="821" y="695">ETS2</text></g>
<g id="n-SPRY1" class="g"><circle cx="1637" cy="697" r="22"/><text x="1637" y="697">SPRY1</text></g>
<g id="n-CDKN2A" class="r"><circle cx="734" cy="702" r="22"/><text x="734" y="702">CDKN2A</text></g>
<g id="n-MYC" class="g"><circle cx="892" cy="714" r="22"/><text x="892" y="714">MYC</text></g>
<g id="n-CLDN1" class="r"><circle cx="1545" cy="714" r="22"/><text x="1545" y="714">CLDN1</text></g>
<g id="n-HOXD8" class="g"><circle cx="1724" cy="726" r="22"/><text x="1724" y="726">HOXD8</text></g>
<g id="n-CCR5" class="r"><circle cx="1041" cy="728" r="22"/><text x="1041" y="728">CCR5</text></g>
<g id="n-ANGPT2" class="g"><circle cx="1420" cy="733" r="22"/><text x="1420" y="733">ANGPT2</text></g>
<g id="n-FOS" class="g"><circle cx="944" cy="737" r="22"/><text x="944" y="737">FOS</text></g>
<g id="n-DAP" class="r"><circle cx="362" cy="738" r="22"/><text x="362" y="738">DAP</text></g>
<g id="n-CSRNP1" class="g"><circle cx="777" cy="738" r="22"/><text x="777" y="738">CSRNP1</text></g>
<g id="n-CTSB" class="r"><circle cx="1154" cy="745" r="22"/><text x="1154" y="745">CTSB</text></g>
<g id="n-LIFR" class="g"><circle cx="679" cy="751" r="22"/><text x="679" y="751">LIFR</text></g>
<g id="n-VWF" class="g"><circle cx="1238" cy="756" r="22"/><text x="1238" y="756">VWF</text></g>
<g id="n-EPHA2" class="g"><circle cx="1314" cy="758" r="22"/><text x="1314" y="758">EPHA2</text></g>
<g id="n-JUN" class="g"><circle cx="990" cy="762" r="22"/><text x="990" y="762">JUN</text></g>
<g id="n-CAV1" class="g"><circle cx="1367" cy="765" r="22"/><text x="1367" y="765">CAV1</text></g>
<g id="n-CD34" class="g"><circle cx="1192" cy="770" r="22"/><text x="1192" y="770">CD34</text></g>
<g id="n-CDKN2B" class="r"><circle cx="578" cy="771" r="22"/><text x="578" y="771">CDKN2B</text></g>
<g id="n-EFNA4" class="r"><circle cx="1568" cy="773" r="22"/><text x="1568" y="773">EFNA4</text></g>
<g id="n-EGR1" class="g"><circle cx="915" cy="773" r="22"/><text x="915" y="773">EGR1</text></g>
<g id="n-MYRIP" class="g"><circle cx="1661" cy="777" r="22"/><text x="1661" y="777">MYRIP</text></g>
<g id="n-CFD" class="g"><circle cx="1036" cy="779" r="22"/><text x="1036" y="779">CFD</text></g>
<g id="n-IL1B" class="r"><circle cx="1084" cy="783" r="22"/><text x="1084" y="783">IL1B</text></g>
<g id="n-PTGS2" class="g"><circle cx="1131" cy="785" r="22"/><text x="1131" y="785">PTGS2</text></g>
<g id="n-FABP4" class="g"><circle cx="792" cy="790" r="22"/><text x="792" y="790">FABP4</text></g>
<g id="n-OLR1" class="r"><circle cx="871" cy="796" r="22"/><text x="871" y="796">OLR1</text></g>
<g id="n-PFN1" class="r"><circle cx="1260" cy="813" r="22"/><text x="1260" y="813">PFN1</text></g>
<g id="n-APOD" class="g"><circle cx="457" cy="817" r="22"/><text x="457" y="817">APOD</text></g>
<g id="n-IL6" class="g"><circle cx="998" cy="818" r="22"/><text x="998" y="818">IL6</text></g>
<g id="n-REV3L" class="g"><circle cx="915" cy="821" r="22"/><text x="915" y="821">REV3L</text></g>
<g id="n-THBD" class="g"><circle cx="1157" cy="825" r="22"/><text x="1157" y="825">THBD</text></g>
<g id="n-NOSTRIN" class="g"><circle cx="1552" cy="832" r="22"/><text x="1552" y="832">NOSTRIN</text></g>
<g id="n-GPX1" class="r"><circle cx="716" cy="833" r="22"/><text x="716" y="833">GPX1</text></g>
<g id="n-ESAM" class="g"><circle cx="1399" cy="833" r="22"/><text x="1399" y="833">ESAM</text></g>
<g id="n-IL33" class="g"><circle cx="1327" cy="835" r="22"/><text x="1327" y="835">IL33</text></g>
<g id="n-LEPR" class="g"><circle cx="662" cy="839" r="22"/><text x="662" y="839">LEPR</text></g>
<g id="n-MMRN1" class="g"><circle cx="1201" cy="840" r="22"/><text x="1201" y="840">MMRN1</text></g>
<g id="n-TIE1" class="g"><circle cx="1625" cy="851" r="22"/><text x="1625" y="851">TIE1</text></g>
<g id="n-EGR3" class="g"><circle cx="763" cy="855" r="22"/><text x="763" y="855">EGR3</text></g>
<g id="n-VDR" class="r"><circle cx="835" cy="854" r="22"/><text x="835" y="854">VDR</text></g>
<g id="n-MMP9" class="r"><circle cx="1066" cy="873" r="22"/><text x="1066" y="873">MMP9</text></g>
<g id="n-MIF" class="r"><circle cx="1247" cy="874" r="22"/><text x="1247" y="874">MIF</text></g>
<g id="n-FOSB" class="g"><circle cx="890" cy="877" r="22"/><text x="890" y="877">FOSB</text></g>
<g id="n-ANGPTL1" class="g"><circle cx="1736" cy="885" r="22"/><text x="1736" y="885">ANGPTL1</text></g>
<g id="n-BBS1" class="g"><circle cx="430" cy="886" r="22"/><text x="430" y="886">BBS1</text></g>
<g id="n-F8" class="g"><circle cx="1307" cy="886" r="22"/><text x="1307" y="886">F8</text></g>
<g id="n-CD36" class="g"><circle cx="1008" cy="888" r="22"/><text x="1008" y="888">CD36</text></g>
<g id="n-PLAUR" class="r"><circle cx="953" cy="890" r="22"/><text x="953" y="890">PLAUR</text></g>
<g id="n-FN1" class="r"><circle cx="1105" cy="902" r="22"/><text x="1105" y="902">FN1</text></g>
<g id="n-LGALS1" class="r"><circle cx="737" cy="904" r="22"/><text x="737" y="904">LGALS1</text></g>
<g id="n-SDPR" class="g"><circle cx="1585" cy="911" r="22"/><text x="1585" y="911">SDPR</text></g>
<g id="n-SPHK1" class="r"><circle cx="1157" cy="914" r="22"/><text x="1157" y="914">SPHK1</text></g>
<g id="n-SELP" class="g"><circle cx="1209" cy="915" r="22"/><text x="1209" y="915">SELP</text></g>
<g id="n-MGLL" class="g"><circle cx="634" cy="922" r="22"/><text x="634" y="922">MGLL</text></g>
<g id="n-SELE" class="g"><circle cx="1255" cy="930" r="22"/><text x="1255" y="930">SELE</text></g>
<g id="n-CDH5" class="g"><circle cx="1364" cy="931" r="22"/><text x="1364" y="931">CDH5</text></g>
<g id="n-LPL" class="g"><circle cx="849" cy="934" r="22"/><text x="849" y="934">LPL</text></g>
<g id="n-MMP1" class="r"><circle cx="1018" cy="936" r="22"/><text x="1018" y="936">MMP1</text></g>
<g id="n-GJB2" class="r"><circle cx="1524" cy="938" r="22"/><text x="1524" y="938">GJB2</text></g>
<g id="n-MMP13" class="r"><circle cx="937" cy="942" r="22"/><text x="937" y="942">MMP13</text></g>
<g id="n-FHL1" class="g"><circle cx="1666" cy="958" r="22"/><text x="1666" y="958">FHL1</text></g>
<g id="n-CD24" class="r"><circle cx="1452" cy="964" r="22"/><text x="1452" y="964">CD24</text></g>
<g id="n-ST6GALNAC1" class="g"><circle cx="571" cy="977" r="22"/><text x="571" y="977">ST6GALNAC1</text></g>
<g id="n-DACH1" class="g"><circle cx="1055" cy="983" r="22"/><text x="1055" y="983">DACH1</text></g>
<g id="n-BMP2" class="g"><circle cx="802" cy="985" r="22"/><text x="802" y="985">BMP2</text></g>
<g id="n-SPP1" class="r"><circle cx="967" cy="985" r="22"/><text x="967" y="985">SPP1</text></g>
<g id="n-RUNX2" class="r"><circle cx="876" cy="987" r="22"/><text x="876" y="987">RUNX2</text></g>
<g id="n-TFPI" class="g"><circle cx="1169" cy="987" r="22"/><text x="1169" y="987">TFPI</text></g>
<g id="n-FCGR3B" class="r"><circle cx="1339" cy="987" r="22"/><text x="1339" y="987">FCGR3B</text></g>
<g id="n-ZBTB16" class="g"><circle cx="677" cy="1001" r="22"/><text x="677" y="1001">ZBTB16</text></g>
<g id="n-PKP4" class="g"><circle cx="1586" cy="1007" r="22"/><text x="1586" y="1007">PKP4</text></g>
<g id="n-PODXL" class="g"><circle cx="1505" cy="1018" r="22"/><text x="1505" y="1018">PODXL</text></g>
<g id="n-VCAN" class="r"><circle cx="1108" cy="1019" r="22"/><text x="1108" y="1019">VCAN</text></g>
<g id="n-WBSCR17" class="g"><circle cx="398" cy="1031" r="22"/><text x="398" y="1031">WBSCR17</text></g>
<g id="n-VWCE" class="g"><circle cx="528" cy="1039" r="22"/><text x="528" y="1039">VWCE</text></g>
<g id="n-COMP" class="r"><circle cx="946" cy="1043" r="22"/><text x="946" y="1043">COMP</text></g>
<g id="n-TIMP4" class="g"><circle cx="879" cy="1046" r="22"/><text x="879" y="1046">TIMP4</text></g>
<g id="n-PROS1" class="g"><circle cx="1395" cy="1050" r="22"/><text x="1395" y="1050">PROS1</text></g>
<g id="n-GALNT6" class="r"><circle cx="737" cy="1051" r="22"/><text x="737" y="1051">GALNT6</text></g>
<g id="n-AOC3" class="g"><circle cx="1198" cy="1064" r="22"/><text x="1198" y="1064">AOC3</text></g>
<g id="n-GPIHBP1" class="g"><circle cx="614" cy="1068" r="22"/><text x="614" y="1068">GPIHBP1</text></g>
<g id="n-CD93" class="g"><circle cx="1325" cy="1074" r="22"/><text x="1325" y="1074">CD93</text></g>
<g id="n-FUT1" class="g"><circle cx="1478" cy="1076" r="22"/><text x="1478" y="1076">FUT1</text></g>
<g id="n-PDK4" class="g"><circle cx="826" cy="1086" r="22"/><text x="826" y="1086">PDK4</text></g>
<g id="n-ITGB5" class="r"><circle cx="1039" cy="1086" r="22"/><text x="1039" y="1086">ITGB5</text></g>
<g id="n-PPAP2B" class="g"><circle cx="978" cy="1088" r="22"/><text x="978" y="1088">PPAP2B</text></g>
<g id="n-ADAMTS9" class="g"><circle cx="1153" cy="1107" r="22"/><text x="1159" y="1107">DAMTS9</text></g>
<g id="n-ITGAV" class="r"><circle cx="1107" cy="1099" r="22"/><text x="1106" y="1099">TGAV</text></g>
<g id="n-ADAMTS3" class="g"><circle cx="902" cy="1110" r="22"/><text x="902" y="1110">ADAMTS3</text></g>
<g id="n-GALNT1" class="r"><circle cx="489" cy="1126" r="22"/><text x="489" y="1126">GALNT1</text></g>
<g id="n-BGN" class="r"><circle cx="1229" cy="1133" r="22"/><text x="1229" y="1133">BGN</text></g>
<g id="n-CADM1" class="r"><circle cx="1276" cy="1142" r="22"/><text x="1276" y="1142">CADM1</text></g>
<g id="n-PDLIM1" class="g"><circle cx="1463" cy="1145" r="22"/><text x="1463" y="1145">PDLIM1</text></g>
<g id="n-ITGA7" class="g"><circle cx="946" cy="1155" r="22"/><text x="946" y="1155">ITGA7</text></g>
<g id="n-DLK1" class="g"><circle cx="1380" cy="1158" r="22"/><text x="1380" y="1158">DLK1</text></g>
<g id="n-ITGA11" class="r"><circle cx="1032" cy="1170" r="22"/><text x="1032" y="1170">ITGA11</text></g>
<g id="n-SDC1" class="r"><circle cx="1106" cy="1170" r="22"/><text x="1106" y="1170">SDC1</text></g>
<g id="n-VKORC1" class="r"><circle cx="1604" cy="1180" r="22"/><text x="1604" y="1180">VKORC1</text></g>
<g id="n-ADAMTS1" class="g"><circle cx="1218" cy="1196" r="22"/><text x="1218" y="1196">ADAMTS1</text></g>
<g id="n-CHST11" class="r"><circle cx="1321" cy="1200" r="22"/><text x="1321" y="1200">CHST11</text></g>
<g id="n-GDF10" class="g"><circle cx="558" cy="1215" r="22"/><text x="558" y="1215">GDF10</text></g>
<g id="n-COL10A1" class="r"><circle cx="853" cy="1232" r="22"/><text x="853" y="1232">COL10A1</text></g>
<g id="n-GPC3" class="g"><circle cx="1264" cy="1242" r="22"/><text x="1264" y="1242">GPC3</text></g>
<g id="n-CHRDL1" class="g"><circle cx="464" cy="1243" r="22"/><text x="464" y="1243">CHRDL1</text></g>
<g id="n-RELN" class="g"><circle cx="998" cy="1253" r="22"/><text x="998" y="1253">RELN</text></g>
<g id="n-COL6A5" class="g"><circle cx="1047" cy="1294" r="22"/><text x="1047" y="1294">COL6A5</text></g>
<g id="n-SMAD1" class="g"><circle cx="1059" cy="1244" r="22"/><text x="1059" y="1244">SMAD1</text></g>
<g id="n-MEG3" class="g"><circle cx="1492" cy="1263" r="22"/><text x="1492" y="1263">MEG3</text></g>
<g id="n-OSR1" class="g"><circle cx="621" cy="1267" r="22"/><text x="621" y="1267">OSR1</text></g>
<g id="n-PCOLCE2" class="g"><circle cx="705" cy="1267" r="22"/><text x="705" y="1267">PCOLCE2</text></g>
<g id="n-COL11A1" class="r"><circle cx="938" cy="1269" r="22"/><text x="938" y="1269">COL11A1</text></g>
<g id="n-GPC6" class="r"><circle cx="1175" cy="1272" r="22"/><text x="1175" y="1272">GPC6</text></g>
<g id="n-MFAP2" class="r"><circle cx="1345" cy="1292" r="22"/><text x="1345" y="1292">MFAP2</text></g>
<g id="n-ASPN" class="r"><circle cx="781" cy="1293" r="22"/><text x="781" y="1293">ASPN</text></g>
<g id="n-CDH11" class="r"><circle cx="1116" cy="1293" r="22"/><text x="1116" y="1293">CDH11</text></g>
<g id="n-TM4SF1" class="g"><circle cx="889" cy="1316" r="22"/><text x="889" y="1316">TM4SF1</text></g>
<g id="n-WISP1" class="r"><circle cx="1446" cy="1326" r="22"/><text x="1446" y="1326">WISP1</text></g>
<g id="n-HS3ST3A1" class="r"><circle cx="1293" cy="1347" r="22"/><text x="1293" y="1347">HS3ST3A1</text></g>
<g id="n-COL8A1" class="r"><circle cx="819" cy="1348" r="22"/><text x="819" y="1348">COL8A1</text></g>
<g id="n-COL5A1" class="r"><circle cx="989" cy="1358" r="22"/><text x="989" y="1358">COL5A1</text></g>
<g id="n-HPSE" class="r"><circle cx="1195" cy="1359" r="22"/><text x="1195" y="1359">HPSE</text></g>
<g id="n-ADAMTS14" class="r"><circle cx="546" cy="1379" r="22"/><text x="546" y="1379">ADAMTS14</text></g>
<g id="n-MAOA" class="g"><circle cx="1261" cy="1385" r="22"/><text x="1261" y="1385">MAOA</text></g>
<g id="n-SULF1" class="r"><circle cx="1138" cy="1389" r="22"/><text x="1138" y="1389">SULF1</text></g>
<g id="n-COL8A2" class="r"><circle cx="892" cy="1401" r="22"/><text x="892" y="1401">COL8A2</text></g>
<g id="n-PLP1" class="g"><circle cx="1048" cy="1403" r="22"/><text x="1048" y="1403">PLP1</text></g>
<g id="n-ITGBL1" class="r"><circle cx="599" cy="1422" r="22"/><text x="599" y="1422">ITGBL1</text></g>
<g id="n-LOXL1" class="r"><circle cx="1463" cy="1422" r="22"/><text x="1463" y="1422">LOXL1</text></g>
<g id="n-ADH1A" class="g"><circle cx="1221" cy="1424" r="22"/><text x="1221" y="1424">ADH1A</text></g>
<g id="n-COL12A1" class="r"><circle cx="979" cy="1427" r="22"/><text x="979" y="1427">COL12A1</text></g>
<g id="n-PLXDC2" class="r"><circle cx="816" cy="1434" r="22"/><text x="816" y="1434">PLXDC2</text></g>
<g id="n-MATN3" class="r"><circle cx="667" cy="1442" r="22"/><text x="667" y="1442">MATN3</text></g>
<g id="n-AOX1" class="g"><circle cx="1332" cy="1442" r="22"/><text x="1332" y="1442">AOX1</text></g>
<g id="n-PPIB" class="r"><circle cx="1110" cy="1477" r="22"/><text x="1110" y="1477">PPIB</text></g>
<g id="n-ZNF469" class="r"><circle cx="883" cy="1478" r="22"/><text x="883" y="1478">ZNF469</text></g>
<g id="n-ADH1B" class="g"><circle cx="1287" cy="1498" r="22"/><text x="1287" y="1498">ADH1B</text></g>
<g id="n-NNMT" class="r"><circle cx="1392" cy="1501" r="22"/><text x="1392" y="1501">NNMT</text></g>
<g id="n-FNDC1" class="r"><circle cx="711" cy="1508" r="22"/><text x="711" y="1508">FNDC1</text></g>
<g id="n-CYP26A1" class="r"><circle cx="1171" cy="1530" r="22"/><text x="1171" y="1530">CYP26A1</text></g>
<g id="n-NKX3-2" class="r"><circle cx="1028" cy="1534" r="22"/><text x="1028" y="1534">NKX3-2</text></g>
<g id="n-SEMA6A" class="g"><circle cx="876" cy="1556" r="22"/><text x="876" y="1556">SEMA6A</text></g>
<g id="n-AKR1C2" class="g"><circle cx="42" cy="1641" r="22"/><text x="42" y="1641">AKR1C2</text></g>
<g id="n-HSD17B6" class="r"><circle cx="182" cy="1677" r="22"/><text x="182" y="1677">HSD17B6</text></g>
<g id="n-AKR1C3" class="g"><circle cx="81" cy="1779" r="22"/><text x="81" y="1779">AKR1C3</text></g>
<g id="n-ANK2" class="g"><circle cx="299" cy="1567" r="22"/><text x="299" y="1567">ANK2</text></g>
<g id="n-SCN4B" class="g"><circle cx="302" cy="1683" r="22"/><text x="302" y="1683">SCN4B</text></g>
<g id="n-SCN3A" class="g"><circle cx="301" cy="1815" r="22"/><text x="301" y="1815">SCN3A</text></g>
<g id="n-ABCA8" class="g"><circle cx="422" cy="1567" r="22"/><text x="422" y="1567">ABCA8</text></g>
<g id="n-ABCA6" class="g"><circle cx="422" cy="1678" r="22"/><text x="422" y="1678">ABCA6</text></g>
<g id="n-ABCA9" class="g"><circle cx="422" cy="1822" r="22"/><text x="422" y="1822">ABCA9</text></g>
<g id="n-FAM83D" class="r"><circle cx="535" cy="1573" r="22"/><text x="535" y="1573">FAM83D</text></g>
<g id="n-PTTG1" class="r"><circle cx="535" cy="1684" r="22"/><text x="535" y="1684">PTTG1</text></g>
<g id="n-NASP" class="g"><circle cx="535" cy="1816" r="22"/><text x="535" y="1816">NASP</text></g>
<g id="n-TDRD10" class="g"><circle cx="642" cy="1644" r="22"/><text x="642" y="1644">TDRD10</text></g>
<g id="n-TDRD6" class="g"><circle cx="641" cy="1788" r="22"/><text x="641" y="1788">TDRD6</text></g>
<g id="n-PIR" class="g"><circle cx="757" cy="1650" r="22"/><text x="757" y="1650">PIR</text></g>
<g id="n-PRDX4" class="r"><circle cx="755" cy="1788" r="22"/><text x="755" y="1788">PRDX4</text></g>
<g id="n-CLK1" class="g"><circle cx="893" cy="1650" r="22"/><text x="893" y="1650">CLK1</text></g>
<g id="n-CCNL1" class="g"><circle cx="891" cy="1794" r="22"/><text x="891" y="1794">CCNL1</text></g>
<g id="n-INHBA" class="r"><circle cx="1031" cy="1650" r="22"/><text x="1031" y="1650">INHBA</text></g>
<g id="n-TGFBR3" class="g"><circle cx="1028" cy="1794" r="22"/><text x="1028" y="1794">TGFBR3</text></g>
<g id="n-PGM5" class="g"><circle cx="1168" cy="1650" r="22"/><text x="1168" y="1650">PGM5</text></g>
<g id="n-SNTG2" class="g"><circle cx="1164" cy="1794" r="22"/><text x="1164" y="1794">SNTG2</text></g>
<g id="n-TMED3" class="r"><circle cx="1304" cy="1650" r="22"/><text x="1304" y="1650">TMED3</text></g>
<g id="n-AP2S1" class="r"><circle cx="1301" cy="1794" r="22"/><text x="1301" y="1794">AP2S1</text></g>
<g id="n-NBEA" class="g"><circle cx="1440" cy="1650" r="22"/><text x="1440" y="1650">NBEA</text></g>
<g id="n-DCLK1" class="g"><circle cx="1438" cy="1794" r="22"/><text x="1438" y="1794">DCLK1</text></g>
<g id="n-ACACB" class="g"><circle cx="1577" cy="1650" r="22"/><text x="1577" y="1650">ACACB</text></g>
<g id="n-CAB39L" class="g"><circle cx="1575" cy="1794" r="22"/><text x="1575" y="1794">CAB39L</text></g>
<g id="n-PGM1" class="r"><circle cx="1715" cy="1650" r="22"/><text x="1715" y="1650">PGM1</text></g>
<g id="n-ENPP1" class="r"><circle cx="1712" cy="1794" r="22"/><text x="1712" y="1794">ENPP1</text></g>
<g id="n-RHOU" class="g"><circle cx="1851" cy="1650" r="22"/><text x="1851" y="1650">RHOU</text></g>
<g id="n-RASGRF2" class="r"><circle cx="1849" cy="1794" r="22"/><text x="1849" y="1794">RASGRF2</text></g>
<g id="n-ABLIM1" class="g"><circle cx="1988" cy="1650" r="22"/><text x="1988" y="1650">ABLIM1</text></g>
<g id="n-ABLIM3" class="g"><circle cx="1986" cy="1794" r="22"/><text x="1986" y="1794">ABLIM3</text></g>
</g>
</svg>
